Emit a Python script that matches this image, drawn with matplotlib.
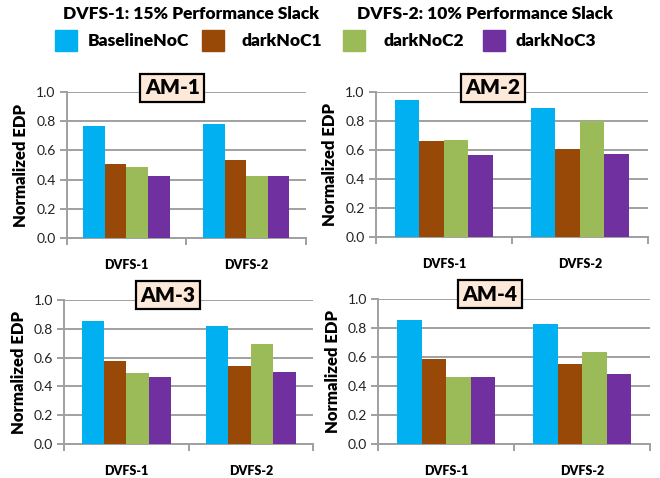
import numpy as np
import matplotlib
matplotlib.use('Agg')
import matplotlib.pyplot as plt
from matplotlib.patches import Rectangle

plt.rcParams['font.family'] = ['Lato', 'DejaVu Sans']

# data
categories = ['DVFS-1', 'DVFS-2']
series = ['BaselineNoC', 'darkNoC1', 'darkNoC2', 'darkNoC3']
colors = ['#00B0F0', '#984807', '#9BBB59', '#7030A0']
panels = ['AM-1', 'AM-2', 'AM-3', 'AM-4']

am1 = [[0.77, 0.78], [0.51, 0.535], [0.485, 0.425], [0.425, 0.425]]
am2 = [[0.947, 0.892], [0.664, 0.608], [0.67, 0.80], [0.567, 0.574]]
am3 = [[0.853, 0.818], [0.578, 0.541], [0.493, 0.694], [0.465, 0.50]]
am4 = [[0.853, 0.825], [0.584, 0.549], [0.46, 0.632], [0.46, 0.48]]
values = [am1, am2, am3, am4]

yticks = [0.0, 0.2, 0.4, 0.6, 0.8, 1.0]

# layout (figure fractions) and title box x position (axes fraction)
axes_pos = [[0.101, 0.5027, 0.3626, 0.3042],
            [0.5692, 0.5042, 0.4126, 0.3027],
            [0.0974, 0.0705, 0.3768, 0.3025],
            [0.5732, 0.0718, 0.4117, 0.3033]]
box_x = [0.442, 0.431, 0.418, 0.411]

grid_c = '#A0A0A0'
bold = 'heavy'

fig = plt.figure(figsize=(6.6, 4.78), dpi=100)

w = 0.18
x = np.arange(len(categories))
for k, name in enumerate(panels):
    ax = fig.add_axes(axes_pos[k])
    for i, s in enumerate(series):
        ax.bar(x + (i - 1.5) * w, values[k][i], width=w, color=colors[i],
               zorder=3, label=s)
    ax.set_xlim(-0.5, 1.5)
    ax.set_ylim(0, 1.0)
    ax.set_yticks(yticks)
    ax.set_yticklabels(['%.1f' % v for v in yticks], fontsize=10, color='#222222')
    ax.set_xticks(x)
    ax.set_xticklabels(categories, fontsize=9, weight=bold)
    ax.set_xticks([-0.5, 0.5, 1.5], minor=True)
    ax.tick_params(axis='x', which='major', length=0, pad=15)
    ax.tick_params(axis='x', which='minor', length=5, width=1.4, color=grid_c)
    ax.tick_params(axis='y', length=5, width=1.4, color=grid_c, pad=3)
    ax.grid(axis='y', color=grid_c, lw=1.4, zorder=0)
    for sp in ['top', 'right']:
        ax.spines[sp].set_visible(False)
    for sp in ['left', 'bottom']:
        ax.spines[sp].set_color(grid_c)
        ax.spines[sp].set_linewidth(1.4)
    ax.set_ylabel('Normalized EDP', fontsize=12, weight=bold, labelpad=5)
    ax.text(box_x[k], 1.03, name, transform=ax.transAxes, ha='center',
            va='center', fontsize=15, weight=bold, zorder=5,
            bbox=dict(boxstyle='square,pad=0.22', fc='#FDE9D9', ec='black', lw=1.6))

# header
fig.text(63 / 660, 1 - 14 / 478, 'DVFS-1: 15% Performance Slack', fontsize=12.5,
         weight=bold, ha='left', va='center')
fig.text(357 / 660, 1 - 14 / 478, 'DVFS-2: 10% Performance Slack', fontsize=12.5,
         weight=bold, ha='left', va='center')

# legend row
patch_x = [55, 202, 343, 483]
text_x = [88, 242, 383, 515]
for i, s in enumerate(series):
    fig.patches.append(Rectangle((patch_x[i] / 660, 1 - 51 / 478), 22 / 660, 21 / 478,
                                 transform=fig.transFigure, color=colors[i]))
    fig.text(text_x[i] / 660, 1 - 41 / 478, s, fontsize=12.5, weight=bold,
             ha='left', va='center')

fig.savefig('out.png', dpi=100)
